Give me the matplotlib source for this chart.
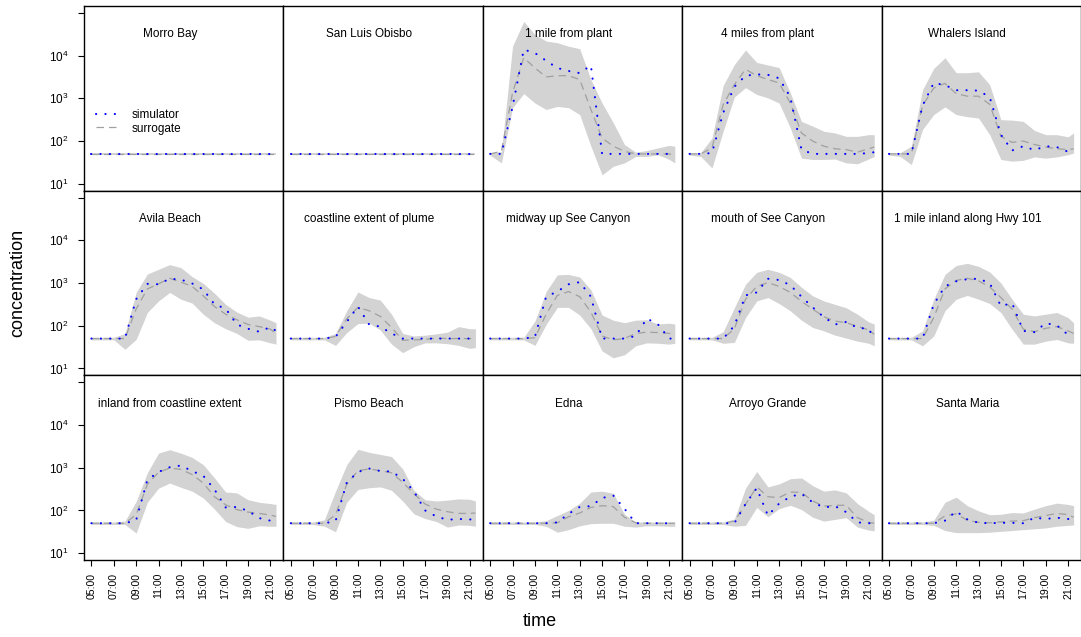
import numpy as np
import matplotlib
matplotlib.use('Agg')
import matplotlib.pyplot as plt
from matplotlib.ticker import NullLocator

''' time axis (hours), shared by every panel '''
hours = [5, 6, 7, 8, 9, 10, 11, 12, 13, 14, 15, 16, 17, 18, 19, 20, 21, 21.5]
tick_hours = [5, 7, 9, 11, 13, 15, 17, 19, 21]
tick_labels = ['05:00', '07:00', '09:00', '11:00', '13:00', '15:00', '17:00', '19:00', '21:00']

''' concentrations read off the plot, stored as log10 values '''
morro_sim = [1.7, 1.7, 1.7, 1.7, 1.7, 1.7, 1.7, 1.7, 1.7, 1.7, 1.7, 1.7, 1.7, 1.7, 1.7, 1.7, 1.7, 1.7]
morro_sur = [1.7, 1.7, 1.7, 1.7, 1.7, 1.7, 1.7, 1.7, 1.7, 1.7, 1.7, 1.7, 1.7, 1.7, 1.7, 1.7, 1.7, 1.7]
morro_hi = [1.73, 1.73, 1.73, 1.73, 1.73, 1.73, 1.73, 1.73, 1.73, 1.73, 1.73, 1.73, 1.73, 1.73, 1.73, 1.73, 1.73, 1.73]
morro_lo = [1.67, 1.67, 1.67, 1.67, 1.67, 1.67, 1.67, 1.67, 1.67, 1.67, 1.67, 1.67, 1.67, 1.67, 1.67, 1.67, 1.67, 1.67]

slo_sim = [1.7, 1.7, 1.7, 1.7, 1.7, 1.7, 1.7, 1.7, 1.7, 1.7, 1.7, 1.7, 1.7, 1.7, 1.7, 1.7, 1.7, 1.7]
slo_sur = [1.7, 1.7, 1.7, 1.7, 1.7, 1.7, 1.7, 1.7, 1.7, 1.7, 1.7, 1.7, 1.7, 1.7, 1.7, 1.7, 1.7, 1.7]
slo_hi = [1.73, 1.73, 1.73, 1.73, 1.73, 1.73, 1.73, 1.73, 1.73, 1.73, 1.73, 1.73, 1.73, 1.73, 1.73, 1.73, 1.73, 1.73]
slo_lo = [1.67, 1.67, 1.67, 1.67, 1.67, 1.67, 1.67, 1.67, 1.67, 1.67, 1.67, 1.67, 1.67, 1.67, 1.67, 1.67, 1.67, 1.67]

mile1_sim = [1.7, 1.7, 2.8, 4.14, 4.06, 3.88, 3.71, 3.64, 3.59, 3.77, 1.7, 1.7, 1.7, 1.7, 1.7, 1.7, 1.7, 1.7]
mile1_sur = [1.7, 1.76, 3.13, 3.95, 3.71, 3.5, 3.53, 3.53, 3.44, 2.74, 2.07, 1.88, 1.76, 1.7, 1.7, 1.7, 1.7, 1.66]
mile1_hi = [1.73, 1.75, 4.22, 4.8, 4.49, 4.34, 4.3, 4.22, 4.16, 3.44, 2.89, 2.43, 1.92, 1.74, 1.78, 1.84, 1.9, 1.88]
mile1_lo = [1.67, 1.49, 2.78, 3.11, 2.89, 2.74, 2.81, 2.78, 2.62, 1.88, 1.21, 1.41, 1.49, 1.64, 1.64, 1.68, 1.57, 1.49]

mile4_sim = [1.7, 1.7, 1.72, 2.66, 3.27, 3.53, 3.56, 3.55, 3.47, 3.03, 1.8, 1.7, 1.7, 1.7, 1.7, 1.7, 1.72, 1.74]
mile4_sur = [1.7, 1.7, 1.84, 2.85, 3.32, 3.68, 3.53, 3.44, 3.36, 2.89, 2.19, 2.0, 1.88, 1.82, 1.8, 1.74, 1.82, 1.86]
mile4_hi = [1.73, 1.73, 2.07, 3.3, 3.79, 4.13, 3.84, 3.78, 3.72, 3.13, 2.46, 2.35, 2.23, 2.19, 2.11, 2.11, 2.15, 2.15]
mile4_lo = [1.67, 1.64, 1.37, 2.23, 3.03, 3.25, 3.09, 3.01, 2.89, 2.31, 1.6, 1.57, 1.57, 1.58, 1.49, 1.47, 1.58, 1.64]

whalers_sim = [1.7, 1.7, 1.7, 2.83, 3.36, 3.31, 3.19, 3.19, 3.18, 3.03, 2.15, 1.78, 1.88, 1.79, 1.88, 1.86, 1.75, 1.76]
whalers_sur = [1.7, 1.7, 1.7, 2.83, 3.24, 3.35, 3.11, 3.05, 3.05, 2.86, 2.11, 1.97, 2.0, 1.92, 1.86, 1.82, 1.8, 1.82]
whalers_hi = [1.73, 1.73, 1.88, 3.2, 3.7, 3.95, 3.6, 3.6, 3.62, 3.32, 2.5, 2.49, 2.46, 2.25, 2.15, 2.15, 2.1, 2.19]
whalers_lo = [1.67, 1.64, 1.45, 2.27, 2.62, 2.8, 2.62, 2.57, 2.54, 2.15, 1.57, 1.53, 1.55, 1.63, 1.6, 1.63, 1.68, 1.72]

avila_sim = [1.7, 1.7, 1.7, 1.7, 2.62, 2.98, 2.97, 3.1, 3.08, 2.99, 2.85, 2.5, 2.4, 2.03, 1.93, 1.86, 1.97, 1.88]
avila_sur = [1.7, 1.7, 1.7, 1.7, 2.39, 2.86, 2.98, 3.11, 3.02, 2.92, 2.7, 2.45, 2.27, 2.14, 2.03, 1.98, 1.92, 1.82]
avila_hi = [1.73, 1.73, 1.73, 1.82, 2.78, 3.21, 3.32, 3.43, 3.36, 3.15, 2.99, 2.76, 2.5, 2.32, 2.2, 2.23, 2.13, 2.07]
avila_lo = [1.67, 1.67, 1.67, 1.45, 1.68, 2.31, 2.58, 2.78, 2.62, 2.53, 2.27, 2.07, 1.93, 1.82, 1.66, 1.67, 1.6, 1.57]

coast_sim = [1.7, 1.7, 1.7, 1.7, 1.74, 2.09, 2.45, 2.03, 1.98, 1.82, 1.7, 1.7, 1.7, 1.7, 1.7, 1.7, 1.7, 1.7]
coast_sur = [1.7, 1.7, 1.7, 1.7, 1.75, 2.16, 2.43, 2.35, 2.22, 1.96, 1.66, 1.67, 1.68, 1.71, 1.7, 1.7, 1.7, 1.7]
coast_hi = [1.73, 1.73, 1.73, 1.73, 1.82, 2.35, 2.79, 2.66, 2.6, 2.27, 1.82, 1.76, 1.78, 1.81, 1.85, 1.98, 1.93, 1.93]
coast_lo = [1.67, 1.67, 1.67, 1.67, 1.54, 1.84, 2.05, 2.06, 1.9, 1.57, 1.37, 1.51, 1.6, 1.6, 1.58, 1.54, 1.47, 1.49]

midway_sim = [1.7, 1.7, 1.7, 1.7, 1.74, 2.68, 2.8, 2.97, 3.02, 2.68, 1.7, 1.7, 1.7, 1.76, 2.17, 2.03, 1.7, 1.7]
midway_sur = [1.7, 1.7, 1.7, 1.7, 1.72, 2.27, 2.71, 2.8, 2.68, 2.32, 1.76, 1.67, 1.7, 1.82, 1.85, 1.84, 1.82, 1.8]
midway_hi = [1.73, 1.73, 1.73, 1.73, 2.11, 2.8, 3.19, 3.2, 3.14, 2.84, 2.25, 2.13, 2.07, 2.13, 2.14, 2.04, 2.06, 2.04]
midway_lo = [1.67, 1.67, 1.67, 1.67, 1.54, 2.03, 2.43, 2.43, 2.25, 1.93, 1.41, 1.25, 1.32, 1.53, 1.6, 1.59, 1.57, 1.59]

mouth_sim = [1.7, 1.7, 1.7, 1.7, 2.0, 2.71, 2.78, 3.1, 3.07, 2.95, 2.68, 2.43, 2.2, 2.03, 2.09, 1.95, 1.93, 1.7]
mouth_sur = [1.7, 1.7, 1.7, 1.7, 1.93, 2.62, 2.92, 3.01, 2.92, 2.78, 2.57, 2.39, 2.21, 2.11, 2.07, 1.99, 1.9, 1.8]
mouth_hi = [1.73, 1.73, 1.73, 1.86, 2.42, 2.97, 3.25, 3.32, 3.25, 3.13, 2.9, 2.7, 2.58, 2.5, 2.42, 2.27, 2.09, 2.04]
mouth_lo = [1.67, 1.67, 1.67, 1.59, 1.61, 2.19, 2.58, 2.66, 2.52, 2.35, 2.13, 1.96, 1.88, 1.78, 1.71, 1.64, 1.59, 1.53]

hwy_sim = [1.7, 1.7, 1.7, 1.7, 2.5, 2.92, 3.04, 3.09, 3.1, 3.0, 2.46, 2.53, 1.88, 1.85, 2.06, 2.01, 1.79, 1.76]
hwy_sur = [1.7, 1.7, 1.7, 1.7, 2.19, 2.86, 3.06, 3.11, 3.05, 2.91, 2.66, 2.39, 1.92, 1.86, 1.94, 1.98, 1.88, 1.82]
hwy_hi = [1.73, 1.73, 1.73, 1.88, 2.62, 3.2, 3.41, 3.46, 3.39, 3.26, 3.0, 2.62, 2.27, 2.23, 2.27, 2.31, 2.19, 2.07]
hwy_lo = [1.67, 1.67, 1.67, 1.53, 1.76, 2.35, 2.62, 2.71, 2.62, 2.52, 2.31, 1.92, 1.57, 1.57, 1.64, 1.68, 1.6, 1.59]

inland_sim = [1.7, 1.7, 1.7, 1.7, 1.77, 2.71, 2.9, 3.01, 3.05, 2.92, 2.81, 2.49, 2.07, 2.08, 1.99, 1.82, 1.76, 1.76]
inland_sur = [1.7, 1.7, 1.7, 1.7, 1.9, 2.61, 2.89, 2.99, 2.96, 2.84, 2.64, 2.32, 2.13, 2.02, 1.96, 1.93, 1.89, 1.86]
inland_hi = [1.73, 1.73, 1.73, 1.75, 2.21, 2.88, 3.34, 3.42, 3.34, 3.24, 3.07, 2.76, 2.43, 2.41, 2.25, 2.19, 2.16, 2.14]
inland_lo = [1.67, 1.67, 1.67, 1.67, 1.47, 2.19, 2.52, 2.64, 2.54, 2.45, 2.29, 2.03, 1.74, 1.62, 1.58, 1.64, 1.63, 1.63]

pismo_sim = [1.7, 1.7, 1.7, 1.7, 1.75, 2.65, 2.9, 2.98, 2.92, 2.91, 2.74, 2.45, 2.0, 1.86, 1.78, 1.8, 1.79, 1.78]
pismo_sur = [1.7, 1.7, 1.7, 1.7, 1.9, 2.61, 2.93, 2.97, 2.93, 2.88, 2.66, 2.39, 2.15, 2.03, 1.97, 1.93, 1.93, 1.94]
pismo_hi = [1.73, 1.73, 1.73, 1.78, 2.45, 3.07, 3.43, 3.36, 3.31, 3.26, 2.97, 2.47, 2.25, 2.22, 2.24, 2.27, 2.26, 2.22]
pismo_lo = [1.67, 1.67, 1.67, 1.63, 1.5, 2.19, 2.49, 2.53, 2.55, 2.47, 2.22, 1.92, 1.81, 1.74, 1.61, 1.66, 1.65, 1.63]

edna_sim = [1.7, 1.7, 1.7, 1.7, 1.7, 1.7, 1.72, 1.92, 2.08, 2.1, 2.29, 2.35, 2.04, 1.7, 1.7, 1.7, 1.7, 1.7]
edna_sur = [1.7, 1.7, 1.7, 1.7, 1.7, 1.7, 1.71, 1.85, 1.94, 2.07, 2.11, 2.09, 1.84, 1.71, 1.7, 1.7, 1.7, 1.7]
edna_hi = [1.73, 1.73, 1.73, 1.73, 1.73, 1.76, 1.88, 2.0, 2.17, 2.43, 2.45, 2.4, 1.91, 1.73, 1.73, 1.73, 1.73, 1.73]
edna_lo = [1.67, 1.67, 1.67, 1.67, 1.67, 1.63, 1.49, 1.55, 1.64, 1.69, 1.7, 1.7, 1.63, 1.61, 1.64, 1.64, 1.63, 1.63]

arroyo_sim = [1.7, 1.7, 1.7, 1.7, 1.7, 2.15, 2.52, 1.88, 2.16, 2.32, 2.39, 2.19, 2.07, 2.1, 1.96, 1.72, 1.7, 1.7]
arroyo_sur = [1.7, 1.7, 1.7, 1.7, 1.75, 2.14, 2.55, 2.32, 2.3, 2.43, 2.42, 2.22, 2.1, 2.12, 2.12, 1.83, 1.72, 1.7]
arroyo_hi = [1.73, 1.73, 1.73, 1.73, 1.8, 2.52, 2.91, 2.55, 2.62, 2.74, 2.76, 2.58, 2.45, 2.48, 2.41, 2.16, 1.98, 1.9]
arroyo_lo = [1.67, 1.67, 1.67, 1.67, 1.63, 1.65, 2.07, 1.85, 2.04, 2.12, 2.02, 1.84, 1.75, 1.79, 1.83, 1.61, 1.54, 1.52]

smaria_sim = [1.7, 1.7, 1.7, 1.7, 1.7, 1.76, 1.98, 1.79, 1.71, 1.7, 1.71, 1.71, 1.7, 1.83, 1.8, 1.83, 1.8, 1.79]
smaria_sur = [1.7, 1.7, 1.7, 1.7, 1.7, 1.87, 1.92, 1.77, 1.72, 1.71, 1.73, 1.75, 1.76, 1.83, 1.88, 1.93, 1.9, 1.84]
smaria_hi = [1.73, 1.73, 1.73, 1.73, 1.77, 2.19, 2.31, 2.11, 1.99, 1.9, 1.91, 1.95, 1.94, 2.03, 2.11, 2.17, 2.14, 2.11]
smaria_lo = [1.67, 1.67, 1.67, 1.67, 1.65, 1.53, 1.48, 1.48, 1.48, 1.49, 1.51, 1.53, 1.55, 1.57, 1.59, 1.63, 1.65, 1.66]

panels = [
    ('Morro Bay', morro_sim, morro_sur, morro_lo, morro_hi),
    ('San Luis Obisbo', slo_sim, slo_sur, slo_lo, slo_hi),
    ('1 mile from plant', mile1_sim, mile1_sur, mile1_lo, mile1_hi),
    ('4 miles from plant', mile4_sim, mile4_sur, mile4_lo, mile4_hi),
    ('Whalers Island', whalers_sim, whalers_sur, whalers_lo, whalers_hi),
    ('Avila Beach', avila_sim, avila_sur, avila_lo, avila_hi),
    ('coastline extent of plume', coast_sim, coast_sur, coast_lo, coast_hi),
    ('midway up See Canyon', midway_sim, midway_sur, midway_lo, midway_hi),
    ('mouth of See Canyon', mouth_sim, mouth_sur, mouth_lo, mouth_hi),
    ('1 mile inland along Hwy 101', hwy_sim, hwy_sur, hwy_lo, hwy_hi),
    ('inland from coastline extent', inland_sim, inland_sur, inland_lo, inland_hi),
    ('Pismo Beach', pismo_sim, pismo_sur, pismo_lo, pismo_hi),
    ('Edna', edna_sim, edna_sur, edna_lo, edna_hi),
    ('Arroyo Grande', arroyo_sim, arroyo_sur, arroyo_lo, arroyo_hi),
    ('Santa Maria', smaria_sim, smaria_sur, smaria_lo, smaria_hi),
]

''' style '''
plt.rcParams['font.family'] = ['Liberation Sans', 'DejaVu Sans']
plt.rcParams['mathtext.fontset'] = 'custom'
plt.rcParams['mathtext.rm'] = 'Liberation Sans'
plt.rcParams['mathtext.it'] = 'Liberation Sans:italic'

fig = plt.figure(figsize=(10.81, 6.37), dpi=100)
axes = fig.subplots(3, 5, sharex=True, sharey=True)
fig.subplots_adjust(left=84/1081, right=1.0, top=1 - 6/637, bottom=1 - 560/637,
                    wspace=0, hspace=0)

x = np.array(hours)
for i, (name, sim, sur, lo, hi) in enumerate(panels):
    ax = axes[i // 5][i % 5]
    ax.fill_between(x, 10 ** np.array(lo), 10 ** np.array(hi), color='#d3d3d3', lw=0)
    ax.plot(x, 10 ** np.array(sur), color='#a0a0a0', lw=0.9, ls=(0, (6, 4)), label='surrogate')
    ax.plot(x, 10 ** np.array(sim), color='#0000ff', lw=1.5, ls=(0, (0.1, 4.4)),
            dash_capstyle='round', label='simulator')
    ax.text(12, 10 ** 4.5, name, ha='center', va='center', fontsize=8.5)
    ax.set_yscale('log')
    for sp in ax.spines.values():
        sp.set_linewidth(1.0)
    ax.tick_params(direction='out', length=4.3, width=0.8,
                   left=(i % 5 == 0), bottom=(i // 5 == 2), top=False, right=False)
    ax.tick_params(axis='y', labelsize=8.5)
    ax.tick_params(axis='x', labelsize=7.6)
    if i == 0:
        h, l = ax.get_legend_handles_labels()
        ax.legend(h[::-1], l[::-1], loc='upper left', bbox_to_anchor=(0.06, 0.44),
                  frameon=False, fontsize=8.5, handlelength=1.9, handletextpad=1.1,
                  labelspacing=0.1, borderpad=0, borderaxespad=0)

ax = axes[0][0]
ax.set_xlim(4.34, 22.16)
ax.set_ylim(10 ** 0.84, 10 ** 5.16)
ax.set_yticks([10, 100, 1000, 10000, 100000])
ax.set_yticklabels(['$10^1$', '$10^2$', '$10^3$', '$10^4$', ''])
ax.yaxis.set_minor_locator(NullLocator())
ax.set_xticks(tick_hours)
ax.set_xticklabels(tick_labels)
for a in axes[2]:
    for lab in a.get_xticklabels():
        lab.set_rotation(90)
    a.tick_params(axis='x', pad=5)
for row in axes:
    row[0].tick_params(axis='y', pad=7)

fig.text(540/1081, 1 - 622/637, 'time', ha='center', va='center', fontsize=13)
fig.text(18/1081, 1 - 283/637, 'concentration', ha='center', va='center',
         rotation=90, fontsize=13)

fig.savefig('out.png', dpi=100)
